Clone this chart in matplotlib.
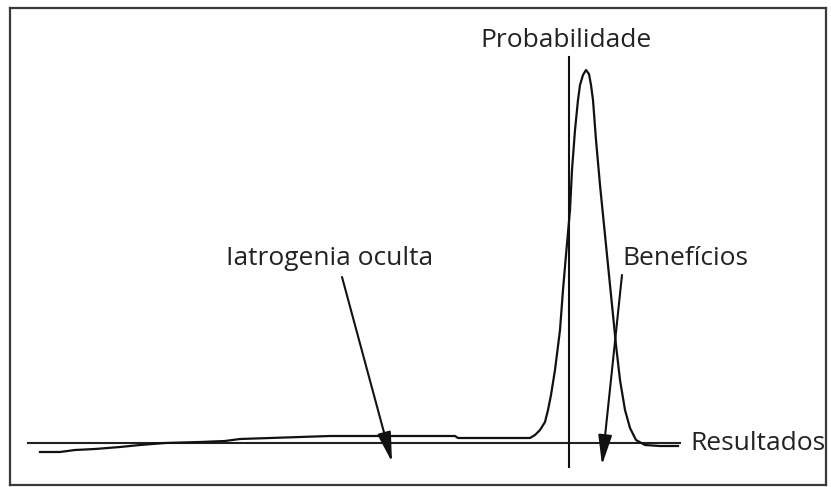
import matplotlib.pyplot as plt

plt.rcParams['font.family'] = ['Open Sans', 'DejaVu Sans']

# curve (x = resultados, y = probabilidade, axis line at y=0)
curve_x = [40, 60, 75, 95, 120, 140, 165, 200, 225, 240, 270, 300, 330, 455, 458, 530,
           535, 540, 545, 548, 551, 555, 560, 563, 566, 570, 572, 575, 578, 580, 583, 586,
           589, 591, 593, 596, 600, 604, 608, 612, 616, 620, 625, 630, 636, 645, 660, 678]
curve_y = [-9, -9, -7, -6, -4, -2, 0, 1, 2, 4, 5, 6, 7, 7, 5, 5,
           8, 13, 21, 33, 48, 73, 113, 153, 188, 233, 273, 313, 343, 358, 368, 373,
           369, 358, 343, 303, 258, 218, 178, 138, 98, 63, 33, 15, 3, -2, -3, -3]

axis_x = [28, 680]
prob_x = 569
prob_y = [-24, 386]

labels = ['Probabilidade', 'Resultados', 'Iatrogenia oculta', 'Benefícios']
arrow_tails = [(342, 166), (622, 168)]
arrow_tips = [(392, -19), (602, -22)]

fig = plt.figure(figsize=(8.31, 4.87), dpi=100)
ax = fig.add_axes([10 / 831, 2 / 487, 816 / 831, 477 / 487])
ax.set_xlim(10, 826)
ax.set_ylim(-42, 435)
ax.set_xticks([])
ax.set_yticks([])
for s in ax.spines.values():
    s.set_color('#3a3a3a')
    s.set_linewidth(1.6)

ax.plot(axis_x, [0, 0], color='#222222', lw=1.5)
ax.plot([prob_x, prob_x], prob_y, color='#111111', lw=1.5)
ax.plot(curve_x, curve_y, color='#111111', lw=1.6)

ax.text(566, 396, labels[0], ha='center', va='baseline', fontsize=19, color='#222222')
ax.text(690, -7, labels[1], ha='left', va='baseline', fontsize=19, color='#222222')
ax.text(330, 178, labels[2], ha='center', va='baseline', fontsize=19, color='#222222')
ax.text(622, 178, labels[3], ha='left', va='baseline', fontsize=19, color='#222222')

for tail, tip in zip(arrow_tails, arrow_tips):
    ax.annotate('', xy=tip, xytext=tail,
                arrowprops=dict(arrowstyle='-|>,head_length=1.3,head_width=0.3',
                                mutation_scale=14, lw=1.5, color='#111111',
                                shrinkA=0, shrinkB=0))

fig.savefig('out.png', dpi=100)
